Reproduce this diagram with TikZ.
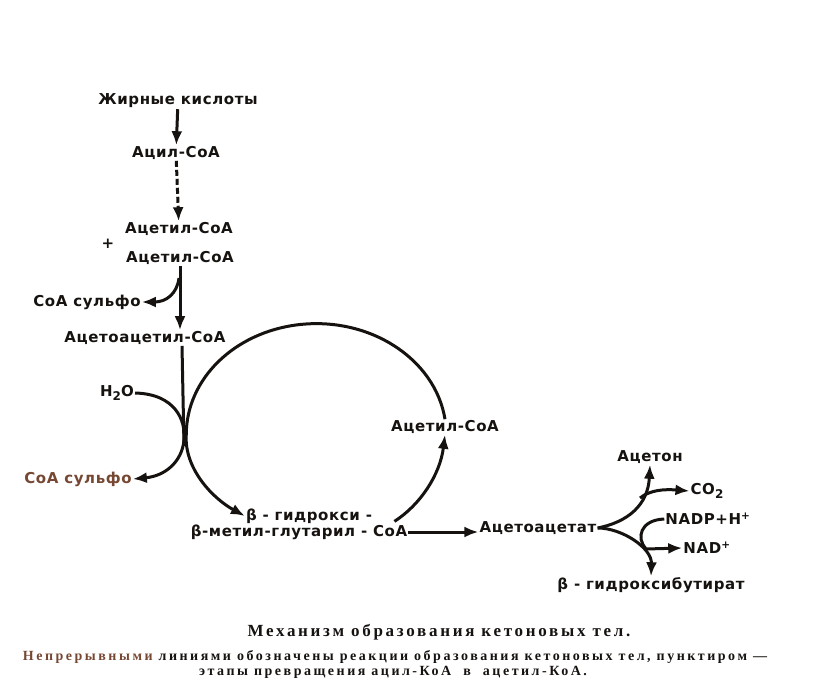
\documentclass[tikz,border=0pt]{standalone}
\usepackage{fontspec}
\setmainfont{Liberation Serif}
\newfontfamily\schemefont[LetterSpace=4]{DejaVu Sans}
\newfontfamily\capfont[LetterSpace=16]{Liberation Serif}
\newfontfamily\notefont[LetterSpace=18]{Liberation Serif}
\usepackage{tikz}
\usetikzlibrary{arrows.meta,calc,positioning}
\definecolor{ink}{RGB}{22,18,16}
\definecolor{faded}{RGB}{118,72,52}
\newcommand{\lowtwo}{\raisebox{-0.4ex}{\fontsize{12}{13}\selectfont 2}}

\begin{document}
\begin{tikzpicture}[x=1pt,y=-1pt,
  chem/.style={font=\schemefont\bfseries\fontsize{15}{17}\selectfont, color=ink, inner sep=1pt},
  capt/.style={font=\capfont\bfseries\fontsize{17}{19}\selectfont, color=ink, inner sep=0pt},
  note/.style={font=\notefont\bfseries\fontsize{14}{16}\selectfont, color=ink, inner sep=0pt},
  arr/.style={-{Latex[length=14pt,width=11pt]}, line width=3pt, color=ink},
  ln/.style={line width=3pt, color=ink}]
  \useasboundingbox (0,0) rectangle (814,682);
  % left column
  \node[chem] (fat)   at (178,101) {Жирные кислоты};
  \node[chem] (acyl)  at (176,153) {Ацил-СоА};
  \node[chem] (acA)   at (179,229) {Ацетил-СоА};
  \node[chem] (plus)  at (108,244) {+};
  \node[chem] (acB)   at (180,258) {Ацетил-СоА};
  \node[chem] (coaA)  at (87,302)  {СоА сульфо};
  \node[chem] (aacoa) at (145,338) {Ацетоацетил-СоА};
  \node[chem] (water) at (117,393) {H\lowtwo O};
  \node[chem,color=faded] (coaB) at (78,479) {СоА сульфо};
  % cycle
  \node[chem] (hmgA)  at (309,516) {β - гидрокси -};
  \node[chem] (hmgB)  at (299,532) {β-метил-глутарил - СоА};
  \node[chem] (acC)   at (445,427) {Ацетил-СоА};
  % right part
  \node[chem] (aa)    at (538,528) {Ацетоацетат};
  \node[chem] (acetone) at (650,457) {Ацетон};
  \node[chem] (co2)   at (707,491) {CO\lowtwo};
  \node[chem] (nadph) at (708,519) {NADP+H\textsuperscript{+}};
  \node[chem] (nad)   at (707,548) {NAD\textsuperscript{+}};
  \node[chem] (hb)    at (651,585) {β - гидроксибутират};
  % caption
  \node[capt] (title) at (439,632) {Механизм образования кетоновых тел.};
  \node[note] (noteA) at (395,657)
    {{\color{faded}Непрерывными} линиями обозначены реакции образования кетоновых тел, пунктиром —};
  \node[note] (noteB) at (393,672) {этапы превращения ацил-КоА \ в \ ацетил-КоА.};

  \coordinate (brA) at (179,278);
  \coordinate (brB) at (640,498);
  \draw[arr] (fat) -- (acyl);
  \draw[arr, dash pattern=on 6pt off 3pt] (acyl) -- (acA);
  \draw[arr] (acB.south) -- (aacoa.north -| acB.south);
  \draw[arr] (brA) .. controls (177,294) and (166,302) .. (coaA.east);
  \draw[ln] (aacoa.south -| 182,0) -- (184,446);
  \draw[arr] (acC.north) arc[start angle=-8, end angle=-180, x radius=130, y radius=111]
    .. controls (184,468) and (212,498) .. (hmgA.west);
  \draw[arr] (water.east) .. controls (175,394) and (186,420) .. (184,440)
    .. controls (182,462) and (165,476) .. (coaB.east);
  \draw[arr] ($(hmgB.north east)+(-14,-2)$) .. controls (420,505) and (440,475) .. (acC.south);
  \draw[arr] (hmgB.east) -- (hmgB.east -| aa.west);
  \draw[arr] (aa.east) .. controls (628,522) and (648,505) .. (acetone.south);
  \draw[arr] (brB) .. controls (650,490) and (664,489) .. (co2.west);
  \draw[arr] (aa.east) .. controls (622,528) and (652,548) .. (hb.north);
  \draw[arr] (nadph.west) .. controls (640,520) and (636,538) .. (646,549) -- (nad.west);
\end{tikzpicture}
\end{document}
